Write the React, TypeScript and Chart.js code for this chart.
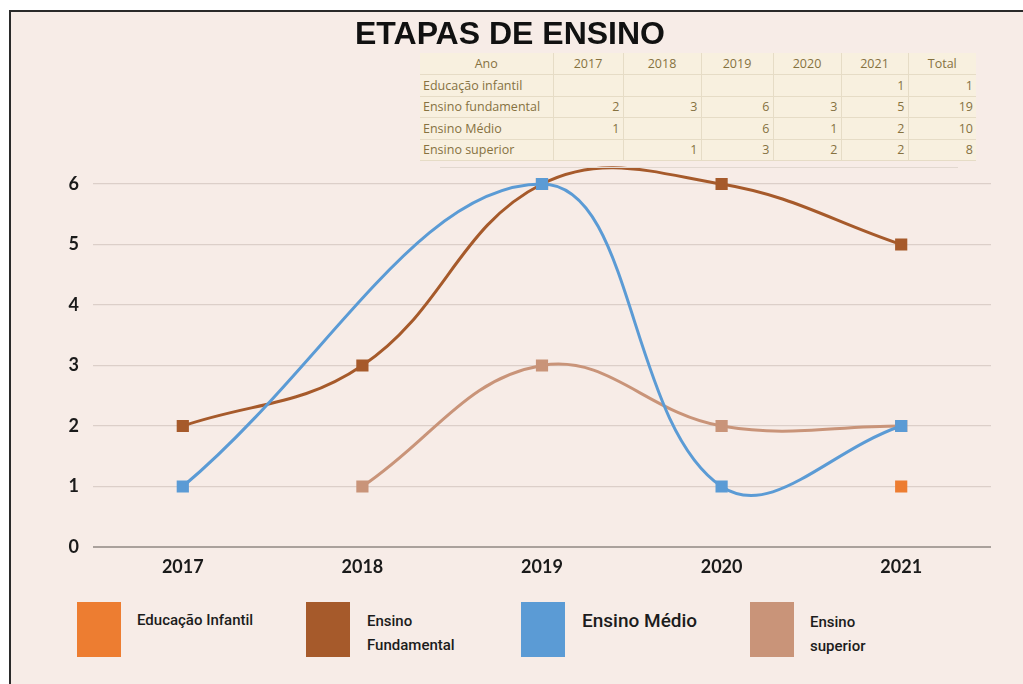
import React, { useEffect, useRef } from "react";
import { Chart, registerables } from "chart.js";

Chart.register(...registerables);

// ---- chart data ----
const years = ["2017", "2018", "2019", "2020", "2021"];
const educacaoInfantil: (number | null)[] = [null, null, null, null, 1];
const ensinoFundamental: (number | null)[] = [2, 3, 6, 6, 5];
const ensinoMedio: (number | null)[] = [1, null, 6, 1, 2];
const ensinoSuperior: (number | null)[] = [null, 1, 3, 2, 2];
const yTicks = [0, 1, 2, 3, 4, 5, 6];

// ---- table data ----
const tableHeader = ["Ano", "2017", "2018", "2019", "2020", "2021", "Total"];
const rowInfantil = ["Educação infantil", "", "", "", "", "1", "1"];
const rowFundamental = ["Ensino fundamental", "2", "3", "6", "3", "5", "19"];
const rowMedio = ["Ensino Médio", "1", "", "6", "1", "2", "10"];
const rowSuperior = ["Ensino superior", "", "1", "3", "2", "2", "8"];

const COLORS = {
  infantil: "#ed7d31",
  fundamental: "#a65a2b",
  medio: "#5b9bd5",
  superior: "#c99479",
};

const colWidths = [133, 70, 78, 72, 68, 67, 68];

function DataTable() {
  const rows = [rowInfantil, rowFundamental, rowMedio, rowSuperior];
  const cell = (i: number, header: boolean): React.CSSProperties => ({
    width: colWidths[i],
    height: 21.5,
    padding: "0 3px",
    boxSizing: "border-box",
    borderRight: i < colWidths.length - 1 ? "1px solid #e6dcc6" : "none",
    borderBottom: "1px solid #e6dcc6",
    textAlign: header ? "center" : i === 0 ? "left" : "right",
    whiteSpace: "nowrap",
    overflow: "hidden",
  });
  return (
    <table
      style={{
        position: "absolute",
        left: 420,
        top: 53,
        borderCollapse: "collapse",
        tableLayout: "fixed",
        background: "#f8f0df",
        fontFamily: "'Open Sans', Lato, sans-serif",
        fontSize: 12.5,
        letterSpacing: 0,
        color: "#86723f",
        zIndex: 2,
      }}
    >
      <tbody>
        <tr>
          {tableHeader.map((h, i) => (
            <td key={i} style={cell(i, true)}>
              {h}
            </td>
          ))}
        </tr>
        {rows.map((r, ri) => (
          <tr key={ri}>
            {r.map((v, i) => (
              <td key={i} style={cell(i, false)}>
                {v}
              </td>
            ))}
          </tr>
        ))}
      </tbody>
    </table>
  );
}

function Legend() {
  const sq = (left: number, color: string): React.CSSProperties => ({
    position: "absolute",
    left,
    top: 602,
    width: 44,
    height: 55,
    background: color,
  });
  const txt: React.CSSProperties = {
    position: "absolute",
    fontFamily: "Roboto, 'Noto Sans', sans-serif",
    fontWeight: 500,
    fontSize: 15,
    color: "#1c1c1c",
    lineHeight: "24px",
    whiteSpace: "nowrap",
  };
  return (
    <>
      <div style={sq(77, COLORS.infantil)} />
      <div style={{ ...txt, left: 137, top: 608 }}>Educação Infantil</div>
      <div style={sq(306, COLORS.fundamental)} />
      <div style={{ ...txt, left: 367, top: 609 }}>
        Ensino
        <br />
        Fundamental
      </div>
      <div style={sq(521, COLORS.medio)} />
      <div style={{ ...txt, left: 582, top: 609, fontSize: 19 }}>Ensino Médio</div>
      <div style={sq(750, COLORS.superior)} />
      <div style={{ ...txt, left: 810, top: 610 }}>
        Ensino
        <br />
        superior
      </div>
    </>
  );
}

export default function App() {
  const ref = useRef<HTMLCanvasElement | null>(null);

  useEffect(() => {
    if (!ref.current) return;
    const common = {
      borderWidth: 3,
      pointStyle: "rect" as const,
      pointRadius: 6.5,
      pointHoverRadius: 6.5,
      tension: 0.4,
      spanGaps: true,
      capBezierPoints: false,
      clip: false as any,
    };
    const chart = new Chart(ref.current, {
      type: "line",
      data: {
        labels: years,
        datasets: [
          {
            ...common,
            label: "Ensino Médio",
            data: ensinoMedio,
            borderColor: COLORS.medio,
            backgroundColor: COLORS.medio,
          },
          {
            ...common,
            label: "Ensino Fundamental",
            data: ensinoFundamental,
            borderColor: COLORS.fundamental,
            backgroundColor: COLORS.fundamental,
          },
          {
            ...common,
            label: "Ensino superior",
            data: ensinoSuperior,
            borderColor: COLORS.superior,
            backgroundColor: COLORS.superior,
          },
          {
            ...common,
            label: "Educação Infantil",
            data: educacaoInfantil,
            borderColor: COLORS.infantil,
            backgroundColor: COLORS.infantil,
          },
        ],
      },
      options: {
        responsive: false,
        animation: false,
        elements: { line: { capBezierPoints: false } },
        layout: { padding: { top: 184, right: 32, left: 0, bottom: 0 } },
        plugins: {
          legend: { display: false },
          tooltip: { enabled: false },
          title: { display: false },
        },
        scales: {
          x: {
            offset: true,
            grid: { display: false, drawTicks: false },
            border: { display: false },
            ticks: {
              padding: 9,
              color: "#1a1a1a",
              font: { family: "Lato, 'Open Sans', sans-serif", size: 18, weight: "bold" },
            },
            afterFit: (s: any) => {
              s.height = 53;
            },
          },
          y: {
            min: 0,
            max: 6,
            afterBuildTicks: (s: any) => {
              s.ticks = yTicks.map((v) => ({ value: v }));
            },
            grid: {
              drawTicks: false,
              color: (c: any) => (c.tick && c.tick.value === 0 ? "#aaa19c" : "#dccfc9"),
              lineWidth: (c: any) => (c.tick && c.tick.value === 0 ? 2 : 1.2),
            },
            border: { display: false },
            ticks: {
              padding: 14,
              color: "#1a1a1a",
              font: { family: "Lato, 'Open Sans', sans-serif", size: 18, weight: "bold" },
            },
            afterFit: (s: any) => {
              s.width = 93;
            },
          },
        },
      },
    });
    return () => chart.destroy();
  }, []);

  return (
    <div
      style={{
        position: "fixed",
        left: 0,
        top: 0,
        width: 1023,
        height: 684,
        background: "#ffffff",
        overflow: "hidden",
      }}
    >
      <div
        style={{
          position: "absolute",
          left: 9,
          top: 10,
          width: 1014,
          height: 674,
          background: "#f7ece7",
          borderTop: "2px solid #2a2a2a",
          borderLeft: "2px solid #2a2a2a",
          boxSizing: "border-box",
        }}
      />
      <div
        style={{
          position: "absolute",
          left: 0,
          width: 1023,
          top: 14,
          textAlign: "center",
          fontFamily: "'Liberation Sans', Arial, sans-serif",
          fontWeight: 700,
          fontSize: 32,
          lineHeight: "38px",
          color: "#111",
          zIndex: 3,
          paddingRight: 3,
          boxSizing: "border-box",
        }}
      >
        ETAPAS DE ENSINO
      </div>
      <canvas
        ref={ref}
        width={1023}
        height={600}
        style={{ position: "absolute", left: 0, top: 0, width: 1023, height: 600, zIndex: 1 }}
      />
      <DataTable />
      <div
        style={{
          position: "absolute",
          left: 440,
          top: 167,
          width: 518,
          height: 1,
          background: "#e2d8d0",
          zIndex: 2,
        }}
      />
      <Legend />
    </div>
  );
}
